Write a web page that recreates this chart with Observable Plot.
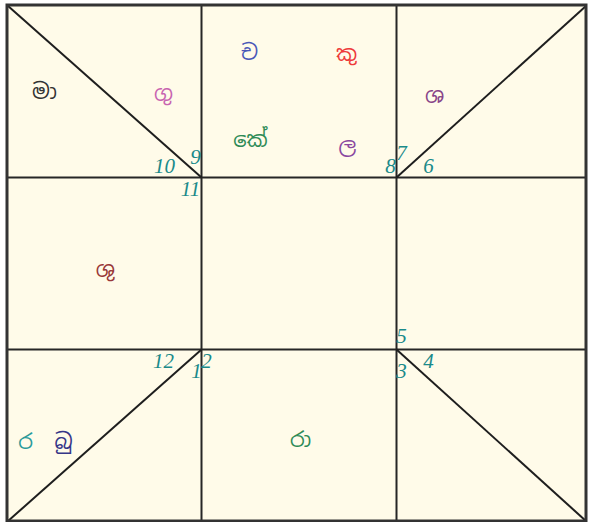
<!DOCTYPE html>
<html>
<head>
<meta charset="utf-8">
<script src="https://cdn.jsdelivr.net/npm/d3@7"></script>
<script src="https://cdn.jsdelivr.net/npm/@observablehq/plot@0.6"></script>
<style>
  html, body { margin: 0; padding: 0; background: #ffffff; }
  #chart svg { display: block; }
</style>
</head>
<body>
<div id="chart"></div>
<script>
// Grid is 3x3 cells in grid units (0..3 on both axes)
// Straight grid lines (x1,y1,x2,y2)
const gridX1 = [1, 2, 0, 0];
const gridY1 = [0, 0, 1, 2];
const gridX2 = [1, 2, 3, 3];
const gridY2 = [3, 3, 1, 2];

// Corner diagonals
const diagX1 = [0, 3, 0, 2];
const diagY1 = [0, 0, 3, 2];
const diagX2 = [1, 2, 1, 3];
const diagY2 = [1, 1, 2, 3];

// House numbers
const houseLabels = ["10", "9", "11", "8", "7", "6", "12", "1", "2", "5", "3", "4"];
const houseX = [0.809, 0.969, 0.943, 1.969, 2.026, 2.168, 0.804, 0.974, 1.026, 2.026, 2.026, 2.168];
const houseY = [0.971, 0.919, 1.105, 0.971, 0.901, 0.971, 2.105, 2.163, 2.105, 1.965, 2.163, 2.110];

// Planets
const planetLabels = ["මා", "ගු", "ච", "කු", "කේ", "ල", "ශ", "ශු", "ර", "බු", "රා"];
const planetX = [0.191, 0.804, 1.246, 1.744, 1.251, 1.749, 2.2, 0.505, 0.093, 0.289, 1.508];
const planetY = [0.541, 0.558, 0.314, 0.320, 0.820, 0.860, 0.564, 1.576, 2.576, 2.576, 2.564];
const planetColors = ["#333333", "#c864b0", "#4a58b8", "#ee3a3a", "#2e8b57", "#8a48a0", "#884488", "#993838", "#2a9a9a", "#363688", "#2e8b57"];

const gridLines = gridX1.map((x1, i) => ({x1, y1: gridY1[i], x2: gridX2[i], y2: gridY2[i]}));
const diagLines = diagX1.map((x1, i) => ({x1, y1: diagY1[i], x2: diagX2[i], y2: diagY2[i]}));
const houses = houseLabels.map((label, i) => ({label, x: houseX[i], y: houseY[i]}));
const planets = planetLabels.map((label, i) => ({label, x: planetX[i], y: planetY[i], color: planetColors[i]}));
const frame = [{x1: 0, y1: 0, x2: 3, y2: 3}];

const chart = Plot.plot({
  width: 589,
  height: 522,
  margin: 0,
  x: {type: "linear", domain: [0, 1, 2, 3], range: [7, 201, 396, 586], axis: null},
  y: {type: "linear", domain: [0, 1, 2, 3], range: [5, 177, 349, 521], axis: null},
  style: {background: "#ffffff"},
  marks: [
    Plot.rect(frame, {x1: "x1", y1: "y1", x2: "x2", y2: "y2", fill: "#fffbe9"}),
    Plot.link(gridLines, {x1: "x1", y1: "y1", x2: "x2", y2: "y2", stroke: "#262626", strokeWidth: 2}),
    Plot.link(diagLines, {x1: "x1", y1: "y1", x2: "x2", y2: "y2", stroke: "#1e1e1e", strokeWidth: 2}),
    Plot.rect(frame, {x1: "x1", y1: "y1", x2: "x2", y2: "y2", fill: "none", stroke: "#333333", strokeWidth: 3}),
    Plot.text(houses, {x: "x", y: "y", text: "label", lineAnchor: "bottom", fill: "#1a8a8a",
      fontSize: 21, fontStyle: "italic", fontFamily: "'Liberation Serif', 'DejaVu Serif', serif"}),
    Plot.text(planets, {x: "x", y: "y", text: "label", lineAnchor: "bottom", fill: "color",
      fontSize: 21, fontFamily: "'Noto Sans Sinhala', 'Noto Serif Sinhala', 'Iskoola Pota', sans-serif"})
  ]
});
document.getElementById("chart").appendChild(chart);
</script>
</body>
</html>
